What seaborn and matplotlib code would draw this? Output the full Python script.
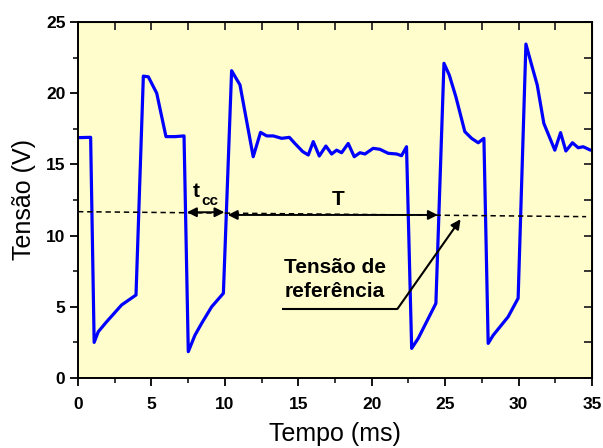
import matplotlib
matplotlib.use("Agg")
import matplotlib.pyplot as plt
import seaborn as sns
from matplotlib.ticker import MultipleLocator

# Measured waveform: time (ms) and voltage (V)
tempo_ms = [0, 0.86, 1.1, 1.38, 1.95, 2.97, 3.95, 4.45, 4.79, 5.36, 5.99, 6.6, 7.22,
            7.51, 7.96, 8.42, 9.1, 9.9, 10.46, 11.03, 11.93, 12.43, 12.85, 13.3,
            13.87, 14.39, 14.77, 15.3, 15.68, 16.02, 16.43, 16.88, 17.27, 17.61,
            17.95, 18.4, 18.81, 19.2, 19.54, 20.1, 20.56, 21.12, 21.7, 22.03, 22.37,
            22.72, 23.17, 24.37, 24.92, 25.28, 25.73, 26.34, 26.8, 27.25, 27.64,
            27.93, 28.27, 29.29, 29.97, 30.5, 30.89, 31.27, 31.72, 32.47, 32.86,
            33.22, 33.67, 34.06, 34.4, 34.9]
tensao_v = [16.88, 16.9, 2.5, 3.25, 3.95, 5.13, 5.83, 21.2, 21.15, 20.0, 16.95, 16.95,
            17.0, 1.85, 3.0, 3.84, 5.0, 5.95, 21.58, 20.58, 15.54, 17.25, 17.0, 17.0,
            16.83, 16.9, 16.47, 15.9, 15.66, 16.6, 15.59, 16.29, 15.73, 16.0, 15.82,
            16.47, 15.54, 15.82, 15.73, 16.13, 16.06, 15.78, 15.73, 15.61, 16.24,
            2.08, 2.79, 5.24, 22.1, 21.28, 19.75, 17.3, 16.83, 16.52, 16.83, 2.43,
            3.0, 4.3, 5.6, 23.45, 21.98, 20.58, 17.88, 16.0, 17.23, 15.94, 16.52,
            16.17, 16.24, 16.0]

# Reference voltage line (start/end)
ref_t = [0.0, 34.6]
ref_v = [11.68, 11.33]

# Time intervals marked on the plot
tcc_span = [7.42, 9.97]
tcc_level = 11.64
T_span = [10.2, 24.5]
T_level = 11.45

# Leader from the "Tensão de referência" label to the reference line
leader_t = [13.9, 21.75, 26.05]
leader_v = [4.85, 4.85, 11.15]

x_ticks = [0, 5, 10, 15, 20, 25, 30, 35]
y_ticks = [0, 5, 10, 15, 20, 25]

sns.set_style("ticks")
plt.rcParams["font.family"] = ["Liberation Sans", "DejaVu Sans"]
plt.rcParams["text.color"] = "black"
plt.rcParams["axes.labelcolor"] = "black"

fig = plt.figure(figsize=(6.03, 4.48), dpi=100)
ax = fig.add_axes([78 / 603, 1 - 378 / 448, 514 / 603, 356 / 448])
ax.set_facecolor("#FFFDCC")

sns.lineplot(x=tempo_ms, y=tensao_v, color="#0000FF", linewidth=2.3,
             sort=False, estimator=None, ax=ax)

# reference level
ax.plot(ref_t, ref_v, color="black", linewidth=1.1, linestyle=(0, (3.5, 2.5)))

arrow = dict(arrowstyle="<|-|>", color="black", lw=1.4, mutation_scale=14,
             shrinkA=0, shrinkB=0)
ax.annotate("", xy=(tcc_span[0], tcc_level), xytext=(tcc_span[1], tcc_level),
            arrowprops=arrow)
ax.annotate("", xy=(T_span[0], T_level), xytext=(T_span[1], T_level),
            arrowprops=arrow)

ax.text(8.07, 12.71, "t", fontsize=15, fontweight="bold", ha="center", va="baseline")
ax.text(9.0, 12.15, "cc", fontsize=11, fontweight="bold", ha="center", va="baseline")
ax.text(17.7, 12.15, "T", fontsize=15, fontweight="bold", ha="center", va="baseline")

ax.text(17.5, 7.37, "Tensão de", fontsize=15, fontweight="bold",
        ha="center", va="baseline")
ax.text(17.5, 5.69, "referência", fontsize=15, fontweight="bold",
        ha="center", va="baseline")

ax.plot(leader_t[:2], leader_v[:2], color="black", linewidth=1.5,
        solid_capstyle="butt")
ax.annotate("", xy=(leader_t[2], leader_v[2]), xytext=(leader_t[1], leader_v[1]),
            arrowprops=dict(arrowstyle="-|>", color="black", lw=1.5,
                            mutation_scale=14, shrinkA=0, shrinkB=0))

ax.set_xlim(0, 35)
ax.set_ylim(0, 25)
ax.set_xticks(x_ticks)
ax.set_yticks(y_ticks)
ax.xaxis.set_minor_locator(MultipleLocator(2.5))
ax.yaxis.set_minor_locator(MultipleLocator(2.5))
ax.tick_params(which="major", direction="out", length=6, width=1.3,
               labelsize=12.5, colors="black")
ax.tick_params(axis="x", which="major", pad=8)
ax.tick_params(axis="y", which="major", pad=3)
ax.tick_params(which="minor", direction="out", length=3.5, width=1.3)
for lab in ax.get_xticklabels() + ax.get_yticklabels():
    lab.set_fontweight("bold")

for side in ["top", "right", "bottom", "left"]:
    ax.spines[side].set_visible(True)
    ax.spines[side].set_linewidth(1.4)
    ax.spines[side].set_color("black")

# mirrored inward ticks on top and right
top = ax.secondary_xaxis("top")
top.set_xticks(x_ticks)
top.xaxis.set_minor_locator(MultipleLocator(2.5))
top.tick_params(which="major", direction="in", length=6, width=1.3, labeltop=False)
top.tick_params(which="minor", direction="in", length=6, width=1.3)
right = ax.secondary_yaxis("right")
right.set_yticks(y_ticks)
right.yaxis.set_minor_locator(MultipleLocator(2.5))
right.tick_params(which="major", direction="in", length=6, width=1.3, labelright=False)
right.tick_params(which="minor", direction="in", length=6, width=1.3)

ax.set_xlabel("Tempo (ms)", fontsize=18, labelpad=7)
ax.set_ylabel("Tensão (V)", fontsize=18, labelpad=7)

fig.savefig("out.png", dpi=100)
